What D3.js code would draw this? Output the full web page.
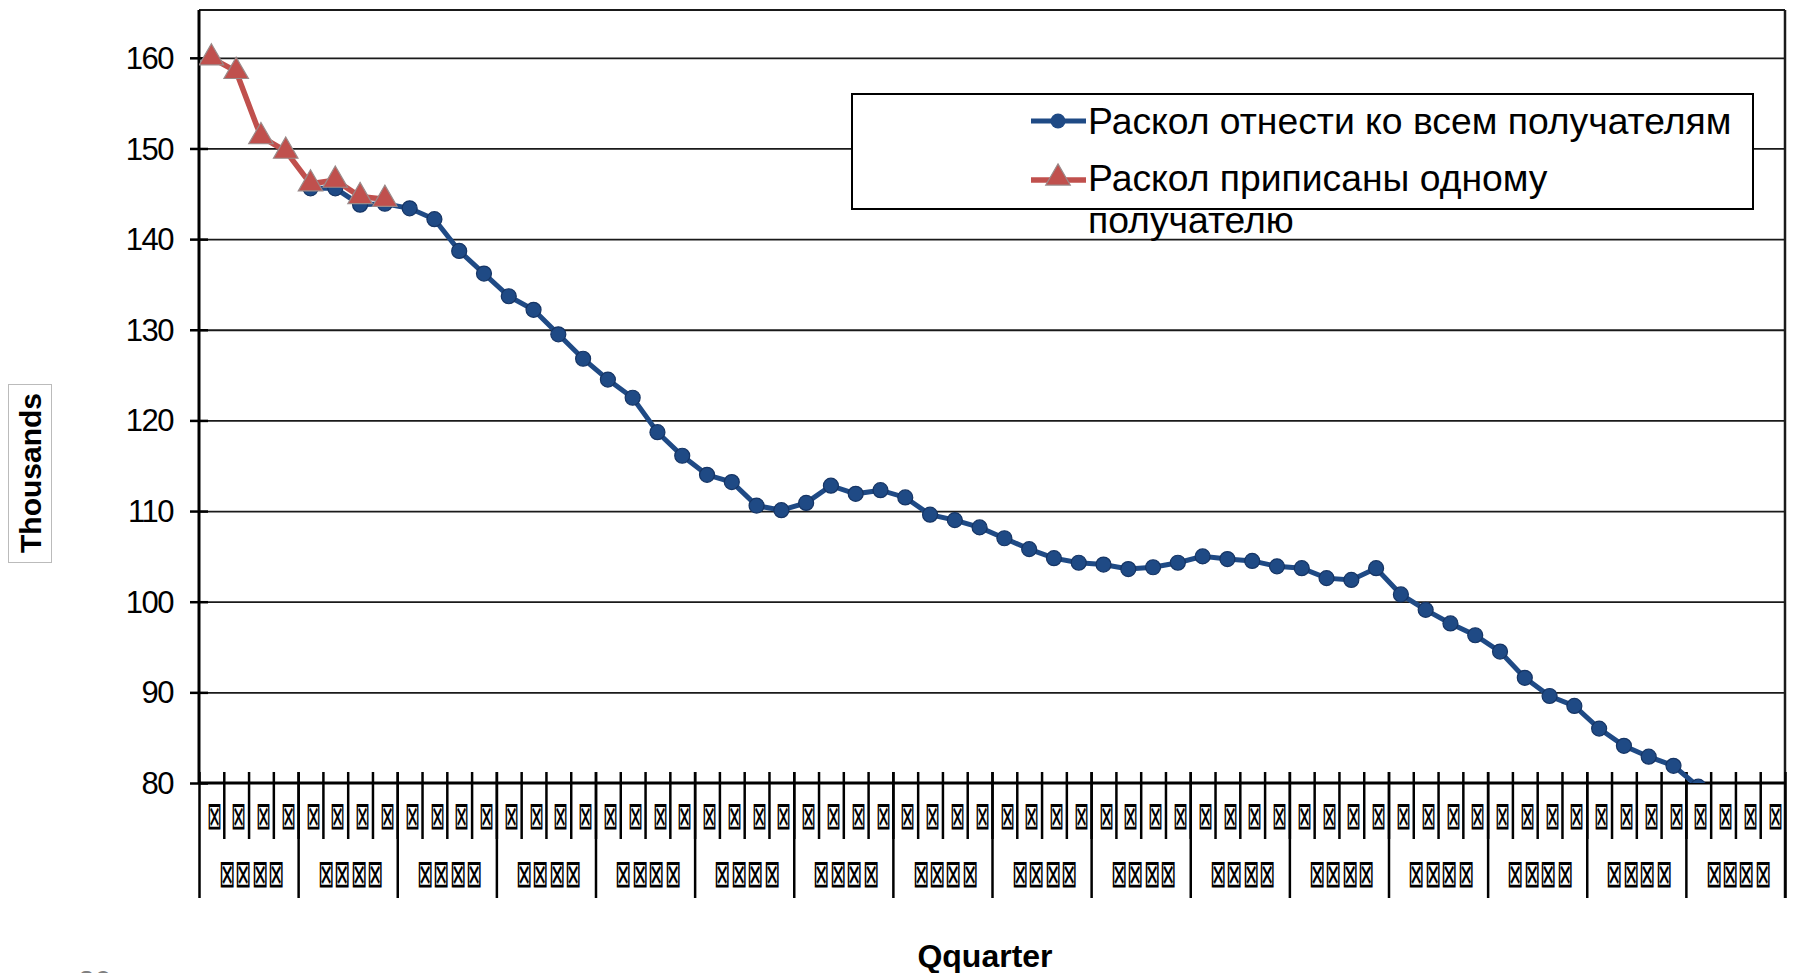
<!DOCTYPE html>
<html>
<head>
<meta charset="utf-8">
<script src="https://cdn.jsdelivr.net/npm/d3@7"></script>
<style>
  body { margin: 0; background: #fff; }
  svg { display: block; }
  text { font-family: "Liberation Sans", Arial, sans-serif; }
</style>
</head>
<body>
<svg id="chart" width="1810" height="973"></svg>
<script>
// 16 years x 4 quarters; the category labels in the source came out as missing-glyph boxes
const yearLabels = ['⊠⊠⊠⊠', '⊠⊠⊠⊠', '⊠⊠⊠⊠', '⊠⊠⊠⊠', '⊠⊠⊠⊠', '⊠⊠⊠⊠', '⊠⊠⊠⊠', '⊠⊠⊠⊠',
                    '⊠⊠⊠⊠', '⊠⊠⊠⊠', '⊠⊠⊠⊠', '⊠⊠⊠⊠', '⊠⊠⊠⊠', '⊠⊠⊠⊠', '⊠⊠⊠⊠', '⊠⊠⊠⊠']
const quarterLabels = ['⊠', '⊠', '⊠', '⊠']

const yTicks = [80, 90, 100, 110, 120, 130, 140, 150, 160]

// thousands
const allRecipients = [
    null, null, null, null, 145.6, 145.6, 143.8, 143.9,
    143.4, 142.2, 138.7, 136.2, 133.7, 132.2, 129.5, 126.8,
    124.5, 122.5, 118.7, 116.1, 114.0, 113.2, 110.6, 110.1,
    110.9, 112.8, 111.9, 112.3, 111.5, 109.6, 109.0, 108.2,
    107.0, 105.8, 104.8, 104.3, 104.1, 103.6, 103.8, 104.3,
    105.0, 104.7, 104.5, 103.9, 103.7, 102.6, 102.4, 103.7,
    100.8, 99.1, 97.6, 96.3, 94.5, 91.6, 89.6, 88.5,
    86.0, 84.1, 82.9, 81.9, 79.6, null, null, null
]
const oneRecipient = [
    160.0, 158.5, 151.3, 149.7, 146.1, 146.5, 144.7, 144.4,
    null, null, null, null, null, null, null, null,
    null, null, null, null, null, null, null, null,
    null, null, null, null, null, null, null, null,
    null, null, null, null, null, null, null, null,
    null, null, null, null, null, null, null, null,
    null, null, null, null, null, null, null, null,
    null, null, null, null, null, null, null, null
]
const seriesNames = ['Раскол отнести ко всем получателям', 'Раскол приписаны одному', 'получателю']

const blue = '#1f4a85'
const red = '#c0504d'

const svg = d3.select('#chart')
const plotL = 199, plotR = 1785, plotT = 10, plotB = 783

const categories = []
yearLabels.forEach((yl, yi) => quarterLabels.forEach((ql, qi) => categories.push(yi * 4 + qi)))

const x = d3.scaleBand().domain(categories).range([plotL, plotR])
const xEdge = d3.scaleLinear().domain([0, categories.length]).range([plotL, plotR])
const y = d3.scaleLinear().domain([80, 165]).range([plotB, 12.5])
const cx = (i) => x(i) + x.bandwidth() / 2

svg.append('rect').attr('width', 1810).attr('height', 973).attr('fill', '#fff')

// horizontal grid
svg.append('g')
    .attr('transform', `translate(${plotL},0)`)
    .call(d3.axisLeft(y).tickValues(yTicks.slice(1)).tickSize(-(plotR - plotL)).tickFormat(''))
    .call(g => g.select('.domain').remove())
    .call(g => g.selectAll('line').attr('stroke', '#1a1a1a').attr('stroke-width', 1.8))

// frame: top and right
svg.append('line').attr('x1', plotL).attr('x2', plotR).attr('y1', plotT).attr('y2', plotT)
    .attr('stroke', '#1a1a1a').attr('stroke-width', 2)
svg.append('line').attr('x1', plotR).attr('x2', plotR).attr('y1', plotT).attr('y2', 898)
    .attr('stroke', '#1a1a1a').attr('stroke-width', 2.5)

// y axis
const yAxis = svg.append('g')
    .attr('transform', `translate(${plotL},0)`)
    .call(d3.axisLeft(y).tickValues(yTicks).tickSize(9).tickPadding(0))
yAxis.select('.domain').attr('d', `M0,${plotT}V${plotB}`).attr('stroke', '#000').attr('stroke-width', 3)
yAxis.selectAll('.tick line').attr('x1', -9).attr('x2', 9).attr('stroke', '#000').attr('stroke-width', 2.5)
yAxis.selectAll('.tick text')
    .attr('x', -26).attr('dy', '0.34em')
    .attr('font-size', 31).attr('letter-spacing', -1.5)
    .attr('font-family', '"Liberation Sans", Arial, sans-serif')
    .attr('fill', '#000')

// x axis: quarter ticks and year separators
const qAxis = svg.append('g')
    .attr('transform', `translate(0,${plotB})`)
    .call(d3.axisBottom(xEdge).tickValues(d3.range(1, categories.length)).tickSize(56).tickFormat(''))
qAxis.select('.domain').attr('d', `M${plotL},0H${plotR}`).attr('stroke', '#000').attr('stroke-width', 3)
qAxis.selectAll('.tick line').attr('y1', -11).attr('stroke', '#000').attr('stroke-width', 2.5)

const yrAxis = svg.append('g')
    .attr('transform', `translate(0,${plotB})`)
    .call(d3.axisBottom(xEdge).tickValues(d3.range(0, categories.length + 1, 4)).tickSize(115).tickFormat(''))
yrAxis.select('.domain').remove()
yrAxis.selectAll('.tick line').attr('y1', -11).attr('stroke', '#000').attr('stroke-width', 2.5)

// category labels (tall narrow boxes, as in the source)
svg.append('g').selectAll('text')
    .data(categories)
    .join('text')
    .attr('transform', (d) => `translate(${cx(d) + 2.5},829) scale(0.46,1)`)
    .attr('text-anchor', 'middle')
    .attr('font-family', '"DejaVu Sans", sans-serif')
    .attr('font-size', 39)
    .attr('fill', '#000')
    .text((d) => quarterLabels[d % 4])

svg.append('g').selectAll('text')
    .data(yearLabels)
    .join('text')
    .attr('transform', (d, i) => `translate(${xEdge(i * 4 + 2) + 3},887) scale(0.5,1)`)
    .attr('text-anchor', 'middle')
    .attr('font-family', '"DejaVu Sans", sans-serif')
    .attr('font-size', 39)
    .attr('fill', '#000')
    .text((d) => d)

// series
svg.append('clipPath').attr('id', 'plot')
    .append('rect').attr('x', plotL).attr('y', plotT).attr('width', plotR - plotL).attr('height', plotB - plotT)

const line = d3.line().defined((d) => d != null).x((d, i) => cx(i)).y((d) => y(d))
const plot = svg.append('g').attr('clip-path', 'url(#plot)')

plot.append('path').datum(allRecipients)
    .attr('d', line).attr('fill', 'none').attr('stroke', blue).attr('stroke-width', 5)
plot.append('g').selectAll('circle')
    .data(allRecipients.map((v, i) => ({ v, i })).filter((d) => d.v != null))
    .join('circle')
    .attr('cx', (d) => cx(d.i)).attr('cy', (d) => y(d.v)).attr('r', 7.5)
    .attr('fill', blue).attr('stroke', '#163565').attr('stroke-width', 1.2)

const tri = d3.symbol().type(d3.symbolTriangle).size(260)
plot.append('path').datum(oneRecipient)
    .attr('d', line).attr('fill', 'none').attr('stroke', red).attr('stroke-width', 5.5)
plot.append('g').selectAll('path')
    .data(oneRecipient.map((v, i) => ({ v, i })).filter((d) => d.v != null))
    .join('path')
    .attr('d', tri)
    .attr('transform', (d) => `translate(${cx(d.i)},${y(d.v)})`)
    .attr('fill', red).attr('stroke', '#9a8a8a').attr('stroke-width', 1.2)

// legend
const lg = svg.append('g')
lg.append('rect').attr('x', 852).attr('y', 94).attr('width', 901).attr('height', 115)
    .attr('fill', '#fff').attr('stroke', '#000').attr('stroke-width', 2)
lg.append('line').attr('x1', 1031).attr('x2', 1086).attr('y1', 121).attr('y2', 121)
    .attr('stroke', blue).attr('stroke-width', 5)
lg.append('circle').attr('cx', 1058).attr('cy', 121).attr('r', 7.5).attr('fill', blue)
lg.append('line').attr('x1', 1031).attr('x2', 1086).attr('y1', 180).attr('y2', 180)
    .attr('stroke', red).attr('stroke-width', 5.5)
lg.append('path').attr('d', tri).attr('transform', 'translate(1058,178)')
    .attr('fill', red).attr('stroke', '#9a8a8a').attr('stroke-width', 1.2)
lg.selectAll('text.item')
    .data(seriesNames)
    .join('text')
    .attr('class', 'item')
    .attr('x', 1088)
    .attr('y', (d, i) => [134, 191, 233][i])
    .attr('font-size', 37.3)
    .attr('fill', '#000')
    .text((d) => d)

// axis titles
svg.append('rect').attr('x', 8.5).attr('y', 384.5).attr('width', 43).attr('height', 178)
    .attr('fill', '#fff').attr('stroke', '#bbb').attr('stroke-width', 1)
svg.append('text')
    .attr('transform', 'translate(41,473) rotate(-90)')
    .attr('text-anchor', 'middle')
    .attr('font-size', 30).attr('font-weight', 'bold')
    .text('Thousands')
svg.append('text')
    .attr('x', 985).attr('y', 967)
    .attr('text-anchor', 'middle')
    .attr('font-size', 32).attr('font-weight', 'bold')
    .text('Qquarter')

// slide page number, cut off at the bottom edge
svg.append('text')
    .attr('x', 78).attr('y', 991)
    .attr('font-size', 30).attr('fill', '#808080')
    .text('20')
</script>
</body>
</html>
